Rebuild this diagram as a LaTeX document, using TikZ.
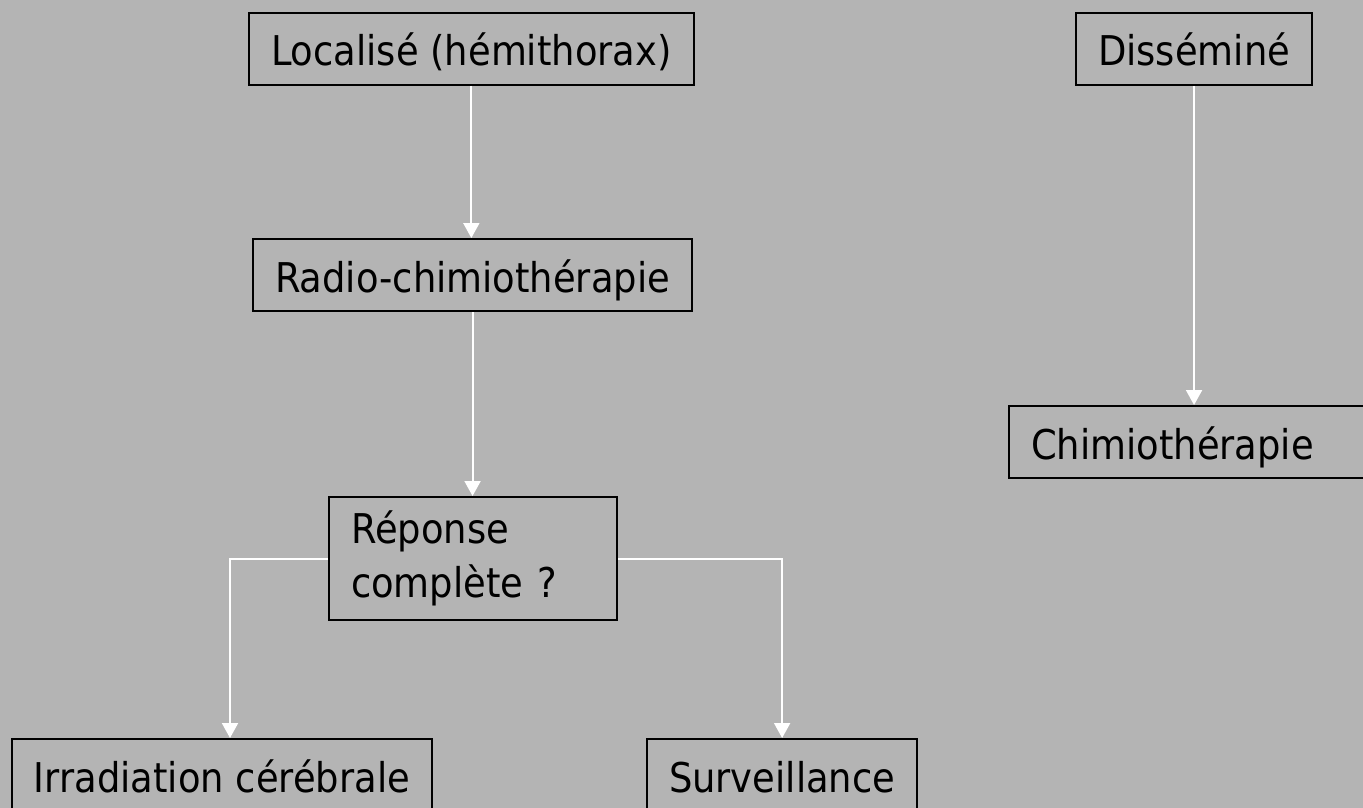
\documentclass[tikz,border=0pt]{standalone}
\usepackage{fontspec}
\usepackage{tikz}
\usetikzlibrary{arrows.meta,positioning}
\newfontfamily\slidefont[FakeStretch=0.9]{DejaVu Sans}
\definecolor{slidegray}{HTML}{B4B4B4}

\begin{document}
\begin{tikzpicture}[x=1pt,y=-1pt,font=\slidefont\fontsize{41}{54}\selectfont,box/.style={draw=black,line width=2pt,anchor=north west,inner xsep=22pt,inner ysep=0pt,text height=53pt,text depth=19pt},flow/.style={draw=white,line width=2pt,-{Triangle[width=16pt,length=15pt]}}]
\useasboundingbox (0,0) rectangle (1363,808);
\fill[slidegray] (0,0) rectangle (1363,808);
\node[box] (loc) at (248,12) {Localisé (hémithorax)};
\node[box] (diss) at (1075,12) {Disséminé};
\node[box] (radio) at (252,238) {Radio-chimiothérapie};
\node[box,text width=340pt,align=left] (chimio) at (1008,405) {Chimiothérapie};
\node[box,text height=,text depth=,text width=244pt,align=left,minimum height=123pt] (rep) at (328,496) {Réponse\\complète ?};
\node[box] (irr) at (11,738) {Irradiation cérébrale};
\node[box] (surv) at (646,738) {Surveillance};
\draw[flow] (loc.south) -- (loc.south |- radio.north);
\draw[flow] (radio.south) -- (radio.south |- rep.north);
\draw[flow] (diss.south) -- (diss.south |- chimio.north);
\draw[flow] (rep.west) -| ([xshift=219pt]irr.north west);
\draw[flow] (rep.east) -| (surv.north);
\end{tikzpicture}
\end{document}
